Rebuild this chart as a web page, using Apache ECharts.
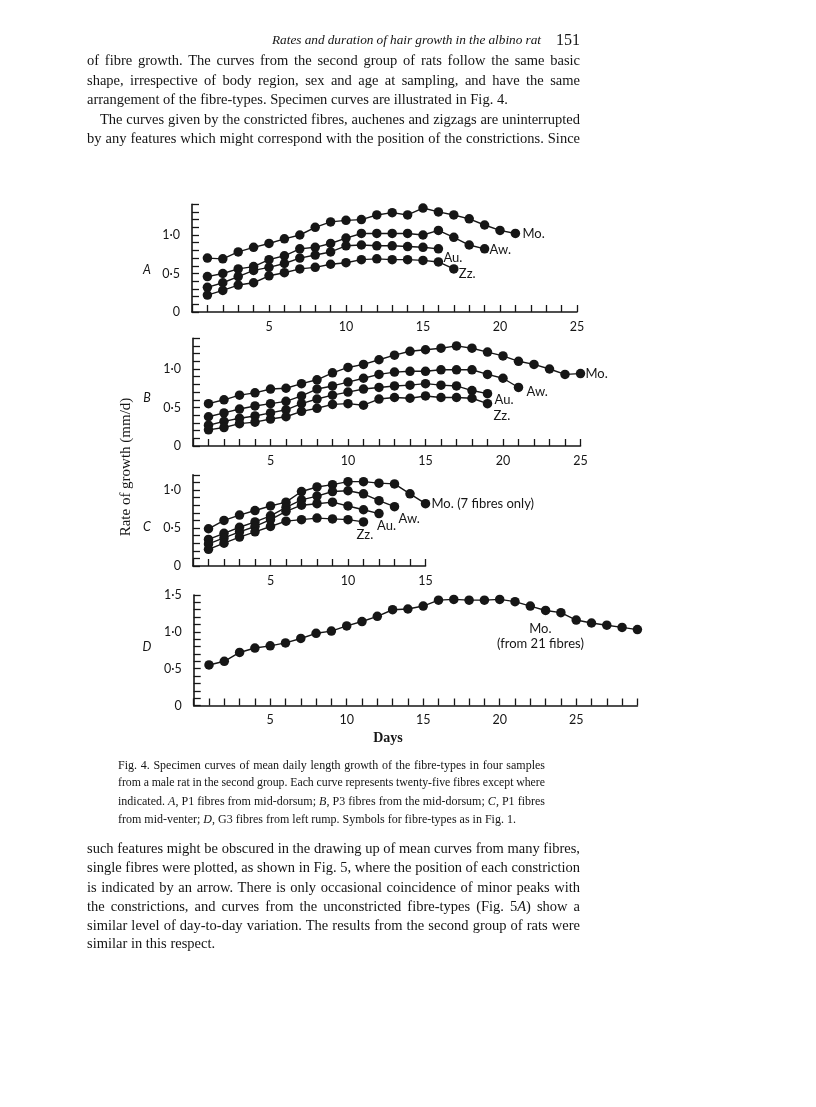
<!DOCTYPE html>
<html>
<head>
<meta charset="utf-8">
<script src="https://cdn.jsdelivr.net/npm/echarts@6/dist/echarts.min.js"></script>
<style>
  html, body { margin: 0; padding: 0; background: #fff; }
  #page { position: relative; width: 816px; height: 1107px; overflow: hidden; background: #fff; }
  #main { position: absolute; left: 0; top: 0; width: 816px; height: 1107px; }
  .ln { position: absolute; white-space: nowrap; line-height: 1; color: #141414;
        font-family: "Liberation Serif", "DejaVu Serif", serif; }
</style>
</head>
<body>
<div id="page"><div id="main"></div></div>
<script>
// 数据：每条曲线从第1天开始，每天一个值 (mm/d)
const panelA_Mo = [0.70, 0.69, 0.78, 0.84, 0.89, 0.95, 1.00, 1.10, 1.17, 1.19, 1.20, 1.26, 1.29, 1.26, 1.35, 1.30, 1.26, 1.21, 1.13, 1.06, 1.02];
const panelA_Aw = [0.46, 0.50, 0.56, 0.59, 0.68, 0.73, 0.82, 0.84, 0.89, 0.96, 1.02, 1.02, 1.02, 1.02, 1.00, 1.06, 0.97, 0.87, 0.82];
const panelA_Au = [0.32, 0.38, 0.46, 0.54, 0.58, 0.63, 0.70, 0.74, 0.78, 0.86, 0.87, 0.86, 0.86, 0.85, 0.84, 0.82];
const panelA_Zz = [0.22, 0.28, 0.35, 0.38, 0.47, 0.51, 0.56, 0.58, 0.62, 0.64, 0.68, 0.69, 0.68, 0.68, 0.67, 0.65, 0.56];

const panelB_Mo = [0.55, 0.60, 0.66, 0.69, 0.74, 0.75, 0.81, 0.86, 0.95, 1.02, 1.06, 1.12, 1.18, 1.23, 1.25, 1.27, 1.30, 1.27, 1.22, 1.17, 1.10, 1.06, 1.00, 0.93, 0.94];
const panelB_Aw = [0.38, 0.43, 0.48, 0.52, 0.55, 0.58, 0.65, 0.74, 0.78, 0.83, 0.88, 0.93, 0.96, 0.97, 0.97, 0.99, 0.99, 0.99, 0.93, 0.88, 0.76];
const panelB_Au = [0.27, 0.32, 0.36, 0.39, 0.43, 0.47, 0.55, 0.61, 0.66, 0.70, 0.74, 0.76, 0.78, 0.79, 0.81, 0.79, 0.78, 0.72, 0.68];
const panelB_Zz = [0.21, 0.24, 0.29, 0.31, 0.35, 0.38, 0.45, 0.49, 0.54, 0.55, 0.53, 0.61, 0.63, 0.62, 0.65, 0.63, 0.63, 0.62, 0.55];

const panelC_Mo = [0.49, 0.60, 0.67, 0.73, 0.79, 0.84, 0.98, 1.04, 1.07, 1.11, 1.11, 1.09, 1.08, 0.95, 0.82];
const panelC_Aw = [0.35, 0.43, 0.51, 0.58, 0.66, 0.77, 0.87, 0.92, 0.98, 0.99, 0.95, 0.86, 0.78];
const panelC_Au = [0.29, 0.37, 0.45, 0.52, 0.61, 0.72, 0.80, 0.82, 0.84, 0.79, 0.74, 0.69];
const panelC_Zz = [0.22, 0.30, 0.38, 0.45, 0.52, 0.59, 0.61, 0.63, 0.62, 0.61, 0.58];

const panelD_Mo = [0.55, 0.60, 0.72, 0.78, 0.81, 0.85, 0.91, 0.98, 1.01, 1.08, 1.14, 1.21, 1.30, 1.31, 1.35, 1.43, 1.44, 1.43, 1.43, 1.44, 1.41, 1.35, 1.29, 1.26, 1.16, 1.12, 1.09, 1.06, 1.03];

// 坐标轴范围
const panelDaysMax = [25, 25, 15, 29];
const panelRateMax = [1.4, 1.4, 1.2, 1.5];
const panelLetters = ['A', 'B', 'C', 'D'];

// 页面文字
const headerText = 'Rates and duration of hair growth in the albino rat';
const pageNumber = '151';
const bodyTop = [
    'of fibre growth. The curves from the second group of rats follow the same basic',
    'shape, irrespective of body region, sex and age at sampling, and have the same',
    'arrangement of the fibre-types.  Specimen curves are illustrated in Fig. 4.',
    'The curves given by the constricted fibres, auchenes and zigzags are uninterrupted',
    'by any features which might correspond with the position of the constrictions. Since'
];
const captionLines = [
    'Fig. 4.  Specimen curves of mean daily length growth of the fibre-types in four samples',
    'from a male rat in the second group.  Each curve represents twenty-five fibres except where',
    'indicated.  <i>A</i>, P1 fibres from mid-dorsum; <i>B</i>, P3 fibres from the mid-dorsum; <i>C</i>, P1 fibres',
    'from mid-venter; <i>D</i>, G3 fibres from left rump.  Symbols for fibre-types as in Fig. 1.'
];
const bodyBottom = [
    'such features might be obscured in the drawing up of mean curves from many fibres,',
    'single fibres were plotted, as shown in Fig. 5, where the position of each constriction',
    'is indicated by an arrow. There is only occasional coincidence of minor peaks with',
    'the constrictions, and curves from the unconstricted fibre-types (Fig. 5<i>A</i>) show a',
    'similar level of day-to-day variation. The results from the second group of rats were',
    'similar in this respect.'
];

const INK = '#161616';
const SANS = 'Lato';
const page = document.getElementById('page');

// 放一行文字；给了 width 就用词距撑满（两端对齐）
function addLine(html, x, yc, size, width, opts) {
    opts = opts || {};
    const el = document.createElement('div');
    el.className = 'ln';
    el.innerHTML = html.replace(/  /g, ' ');
    el.style.fontSize = size + 'px';
    if (opts.italic) el.style.fontStyle = 'italic';
    el.style.left = x + 'px';
    el.style.top = (yc - size * 0.6) + 'px';
    page.appendChild(el);
    if (width) {
        const spaces = (el.textContent.match(/ /g) || []).length;
        let natural = el.getBoundingClientRect().width;
        let fs = size;
        // 太宽时缩字号，尽量不出现负词距
        while (natural - width > spaces * 0.3 && fs > 6) {
            fs -= 0.1;
            el.style.fontSize = fs + 'px';
            natural = el.getBoundingClientRect().width;
        }
        if (spaces) el.style.wordSpacing = ((width - natural) / spaces) + 'px';
    }
    if (opts.right) {
        el.style.left = (opts.right - el.getBoundingClientRect().width) + 'px';
    }
    return el;
}

// 页眉
addLine(headerText, 272, 42, 15.5, 269, { italic: true });
addLine(pageNumber, 0, 42, 16, null, { right: 580 });

// 上段正文
const topY = [62, 81.5, 101, 120.5, 140];
bodyTop.forEach((t, i) => {
    const x = i === 3 ? 100 : 87;
    const w = i === 2 ? null : 580 - x;
    addLine(t, x, topY[i], 14.5, w);
});

// 图注
const capY = [766, 784, 802, 820];
captionLines.forEach((t, i) => {
    addLine(t, 118, capY[i], 12, i === 3 ? null : 427);
});

// 下段正文
const botY = [850, 869, 888.5, 907.5, 926.5, 945];
bodyBottom.forEach((t, i) => {
    addLine(t, 87, botY[i], 14.5, i === 5 ? null : 493);
});

// 图表
const chart = echarts.init(document.getElementById('main'));

const grids = [
    { left: 192, top: 204.2, width: 385, height: 107.8 },
    { left: 193, top: 338.2, width: 387.5, height: 107.8 },
    { left: 193, top: 474.8, width: 232.5, height: 91.2 },
    { left: 193.7, top: 595, width: 443.7, height: 110.5 }
];

function pts(arr) {
    return arr.map((v, i) => [i + 1, v]);
}

function rateLabel(v) {
    const t = Math.round(v * 10);
    if (t % 5 !== 0) return '';
    return t === 0 ? '0' : (t / 10).toFixed(1).replace('.', '·');
}

const xAxes = panelDaysMax.map((m, k) => ({
    type: 'value', gridIndex: k, min: 0, max: m, interval: 1,
    axisLine: { show: true, onZero: false, lineStyle: { color: INK, width: 1.6 } },
    axisTick: { show: true, inside: true, length: 7, lineStyle: { color: INK, width: 1.3 } },
    axisLabel: {
        formatter: v => (v > 0 && v % 5 === 0 ? String(v) : ''),
        fontFamily: SANS, fontSize: 12.5, color: INK, margin: 8
    },
    splitLine: { show: false }
}));

const yAxes = panelRateMax.map((m, k) => ({
    type: 'value', gridIndex: k, min: 0, max: m, interval: 0.1,
    axisLine: { show: true, lineStyle: { color: INK, width: 1.6 } },
    axisTick: { show: true, inside: true, length: 7, lineStyle: { color: INK, width: 1.3 } },
    axisLabel: { formatter: rateLabel, fontFamily: SANS, fontSize: 12.5, color: INK, margin: 12 },
    splitLine: { show: false }
}));

const curves = [
    { k: 0, data: panelA_Mo, text: 'Mo.', offset: [2, 0] },
    { k: 0, data: panelA_Aw, text: 'Aw.', offset: [0, 1] },
    { k: 0, data: panelA_Au, text: 'Au.', offset: [0, 9] },
    { k: 0, data: panelA_Zz, text: 'Zz.', offset: [0, 5] },
    { k: 1, data: panelB_Mo, text: 'Mo.', offset: [0, 0] },
    { k: 1, data: panelB_Aw, text: 'Aw.', offset: [3, 4] },
    { k: 1, data: panelB_Au, text: 'Au.', offset: [2, 6] },
    { k: 1, data: panelB_Zz, text: 'Zz.', offset: [1, 12] },
    { k: 2, data: panelC_Mo, text: 'Mo. (7 fibres only)', offset: [1, 0] },
    { k: 2, data: panelC_Aw, text: 'Aw.', offset: [-1, 12] },
    { k: 2, data: panelC_Au, text: 'Au.', offset: [-7, 12] },
    { k: 2, data: panelC_Zz, text: 'Zz.', offset: [-12, 13] },
    { k: 3, data: panelD_Mo, text: 'Mo.\n(from 21 fibres)', offset: [-102, 7], align: 'center' }
];

const series = curves.map(c => ({
    type: 'line',
    xAxisIndex: c.k,
    yAxisIndex: c.k,
    data: pts(c.data),
    symbol: 'circle',
    symbolSize: 9.5,
    itemStyle: { color: INK },
    lineStyle: { color: INK, width: 1.4 },
    endLabel: {
        show: true,
        formatter: c.text,
        distance: 5,
        offset: c.offset,
        align: c.align || 'left',
        fontFamily: SANS,
        fontSize: 13,
        lineHeight: 15,
        color: INK
    },
    silent: true
}));

const graphic = [];
const letterY = [270, 398, 527, 647];
panelLetters.forEach((l, k) => {
    graphic.push({
        type: 'text', x: 147, y: letterY[k],
        style: { text: l, font: 'italic 12.5px ' + SANS, fill: INK, textAlign: 'center', textVerticalAlign: 'middle' }
    });
});
graphic.push({
    type: 'text', x: 126, y: 467, rotation: Math.PI / 2,
    style: { text: 'Rate of growth (mm/d)', font: '15px "Liberation Serif"', fill: INK, textAlign: 'center', textVerticalAlign: 'middle' }
});
graphic.push({
    type: 'text', x: 388, y: 738,
    style: { text: 'Days', font: 'bold 14px "Liberation Serif"', fill: INK, textAlign: 'center', textVerticalAlign: 'middle' }
});

chart.setOption({
    animation: false,
    backgroundColor: 'transparent',
    grid: grids,
    xAxis: xAxes,
    yAxis: yAxes,
    series: series,
    graphic: graphic
});
</script>
</body>
</html>
